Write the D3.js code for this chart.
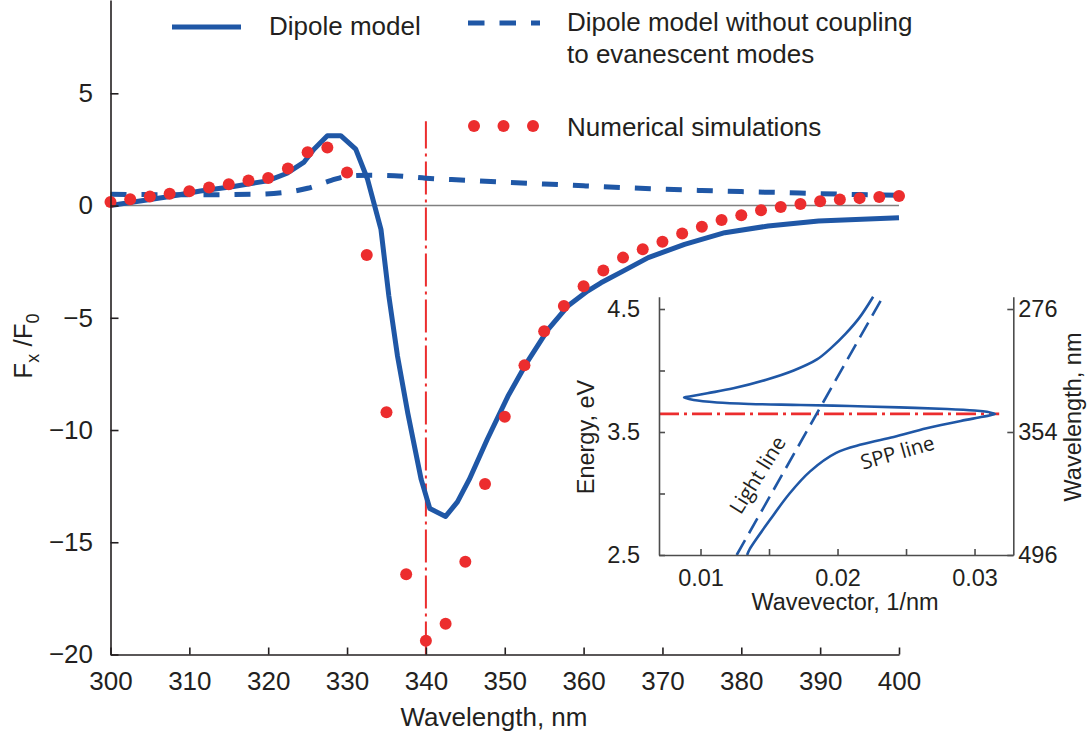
<!DOCTYPE html>
<html>
<head>
<meta charset="utf-8">
<script src="https://cdn.jsdelivr.net/npm/d3@7"></script>
<style>
  body { margin: 0; background: #fff; }
  svg { display: block; font-family: "Liberation Sans", Arial, Helvetica, sans-serif; }
</style>
</head>
<body>
<svg id="chart" width="1090" height="739"></svg>
<script>
// ---- values ----

// main panel: Fx/F0 against wavelength (nm)
var dipoleWl = [300, 302.9, 307.1, 311.4, 315.6, 319.9, 322.4, 324.5, 325.8, 327.5, 329.2, 331.1, 332.6, 334.3,
                335.3, 336.4, 337.7, 339.4, 340.5, 342.5, 344, 345.5, 347.8, 350.4, 352.9, 355.5, 358, 360.5,
                362.2, 365, 368.2, 372.8, 377.9, 383.4, 389.8, 400];
var dipoleF = [0.0, 0.16, 0.38, 0.65, 0.85, 1.10, 1.44, 1.92, 2.51, 3.11, 3.11, 2.51, 1.17, -1.06,
               -4.03, -6.71, -9.24, -12.2, -13.5, -13.85, -13.2, -12.2, -10.4, -8.5, -6.94, -5.52, -4.48, -3.81,
               -3.44, -2.92, -2.32, -1.73, -1.21, -0.91, -0.69, -0.54];

var uncoupledWl = [300, 310, 318, 322, 325, 328, 330.5, 333, 336, 340, 345, 350, 355, 360, 365, 370, 375, 380, 385, 390, 395, 400];
var uncoupledF = [0.5, 0.48, 0.5, 0.58, 0.77, 1.12, 1.33, 1.35, 1.33, 1.22, 1.13, 1.04, 0.96, 0.88, 0.8, 0.73, 0.67, 0.62, 0.58, 0.53, 0.49, 0.46];

var simWl = [300, 302.5, 305, 307.5, 310, 312.5, 315, 317.5, 320, 322.5, 325, 327.5, 330, 332.5, 335, 337.5, 340,
             342.5, 345, 347.5, 350, 352.5, 355, 357.5, 360, 362.5, 365, 367.5, 370, 372.5, 375, 377.5, 380,
             382.5, 385, 387.5, 390, 392.5, 395, 397.5, 400];
var simF = [0.16, 0.28, 0.40, 0.52, 0.64, 0.80, 0.95, 1.12, 1.23, 1.65, 2.37, 2.59, 1.47, -2.2, -9.21, -16.43, -19.39,
            -18.63, -15.87, -12.4, -9.41, -7.12, -5.6, -4.48, -3.6, -2.89, -2.32, -1.95, -1.61, -1.25, -0.94, -0.64, -0.43,
            -0.21, -0.06, 0.07, 0.19, 0.27, 0.33, 0.38, 0.43];

var markerWl = 340;           // resonance wavelength
var markerSpan = [-20, 3.75]; // extent of the vertical dash-dot line

var xTicks = [300, 310, 320, 330, 340, 350, 360, 370, 380, 390, 400];
var yTicks = [-20, -15, -10, -5, 0, 5];

// inset: dispersion, energy (eV) against wavevector (1/nm)
var sppK = [0.0226, 0.0216, 0.0206, 0.0195, 0.0185, 0.0168, 0.0148, 0.0124, 0.0105, 0.0093, 0.0088,
            0.0095, 0.0112, 0.0136, 0.0173, 0.0209, 0.0245, 0.0280, 0.0300, 0.0309, 0.0315,
            0.0306, 0.0290, 0.0265, 0.0241, 0.0218, 0.0199, 0.0180, 0.0165, 0.0151, 0.0136, 0.0134];
var sppE = [4.60, 4.43, 4.30, 4.18, 4.09, 4.00, 3.925, 3.855, 3.815, 3.79, 3.78,
            3.76, 3.74, 3.728, 3.72, 3.711, 3.70, 3.687, 3.675, 3.665, 3.646,
            3.624, 3.59, 3.53, 3.46, 3.40, 3.33, 3.18, 3.00, 2.79, 2.55, 2.50];
var lightK = [0.01264, 0.02332];
var lightE = [2.5, 4.6];
var markerE = 3.647;
var markerKEnd = 0.0318;

var energyTicks = [2.5, 3, 3.5, 4, 4.5];
var energyLabeled = [2.5, 3.5, 4.5];
var kTicks = [0.01, 0.015, 0.02, 0.025, 0.03];
var kLabeled = [0.01, 0.02, 0.03];
var wlTickE = [4.5, 3.5, 2.5];
var wlTickLabels = ["276", "354", "496"];

// ---- styling ----
var blue = "#1f57a6";
var red = "#ec2d2e";
var ink = "#231f20";

var svg = d3.select("#chart");

// ---- main panel ----
var x = d3.scaleLinear().domain([300, 400]).range([110.5, 899]);
var y = d3.scaleLinear().domain([-20, 5]).range([654.5, 93.3]);
var yTop = y.invert(0);
y.domain([-20, yTop]).range([654.5, 0]);

// zero line
svg.append("line")
    .attr("x1", x(300)).attr("x2", x(400))
    .attr("y1", y(0)).attr("y2", y(0))
    .style("stroke", "#808080")
    .style("stroke-width", 1.5);

// resonance marker
svg.append("line")
    .attr("x1", x(markerWl)).attr("x2", x(markerWl))
    .attr("y1", y(markerSpan[0])).attr("y2", y(markerSpan[1]))
    .style("stroke", red)
    .style("stroke-width", 2)
    .style("stroke-dasharray", "33,5,3,5");

var line = d3.line()
    .x(function(d) { return x(d[0]); })
    .y(function(d) { return y(d[1]); });

svg.append("path")
    .datum(d3.zip(uncoupledWl, uncoupledF))
    .attr("d", line.curve(d3.curveMonotoneX))
    .style("fill", "none")
    .style("stroke", blue)
    .style("stroke-width", 5)
    .style("stroke-dasharray", "16,15");

svg.append("path")
    .datum(d3.zip(dipoleWl, dipoleF))
    .attr("d", line.curve(d3.curveLinear))
    .style("fill", "none")
    .style("stroke", blue)
    .style("stroke-width", 5)
    .style("stroke-linejoin", "round");

svg.selectAll("circle.sim")
    .data(d3.zip(simWl, simF))
    .enter()
    .append("circle")
    .attr("class", "sim")
    .attr("cx", function(d) { return x(d[0]); })
    .attr("cy", function(d) { return y(d[1]); })
    .attr("r", 6)
    .style("fill", red);

function styleAxis(g, color, size) {
    g.select(".domain").style("stroke", color).style("stroke-width", 1.6);
    g.selectAll(".tick line").style("stroke", color).style("stroke-width", 1.6);
    g.selectAll(".tick text").style("fill", ink).style("font-size", size + "px")
        .style("font-family", "'Liberation Sans', Arial, sans-serif");
}

var xAxis = svg.append("g")
    .attr("transform", "translate(0," + y(-20) + ")")
    .call(d3.axisBottom(x).tickValues(xTicks).tickSizeInner(-7).tickSizeOuter(0).tickPadding(17));
styleAxis(xAxis, ink, 26);

var yAxis = svg.append("g")
    .attr("transform", "translate(" + x(300) + ",0)")
    .call(d3.axisLeft(y).tickValues(yTicks).tickSizeInner(-8).tickSizeOuter(0).tickPadding(17.5));
styleAxis(yAxis, ink, 26);

svg.append("text")
    .attr("x", 494).attr("y", 726)
    .attr("text-anchor", "middle")
    .style("font-size", "26px").style("fill", ink)
    .text("Wavelength, nm");

var yLabel = svg.append("text")
    .attr("transform", "translate(32,346) rotate(-90)")
    .attr("text-anchor", "middle")
    .style("font-size", "26px").style("fill", ink);
yLabel.append("tspan").text("F");
yLabel.append("tspan").attr("dy", 7).style("font-size", "18px").text("x");
yLabel.append("tspan").attr("dy", -7).text(" /F");
yLabel.append("tspan").attr("dy", 7).style("font-size", "18px").text("0");

// legend
svg.append("line")
    .attr("x1", 172).attr("x2", 241).attr("y1", 27).attr("y2", 27)
    .style("stroke", blue).style("stroke-width", 5);
svg.append("text").attr("x", 269).attr("y", 35)
    .style("font-size", "26px").style("fill", ink).text("Dipole model");

svg.append("line")
    .attr("x1", 468).attr("x2", 540).attr("y1", 23).attr("y2", 23)
    .style("stroke", blue).style("stroke-width", 5).style("stroke-dasharray", "16.5,15");
svg.append("text").attr("x", 567).attr("y", 31)
    .style("font-size", "26px").style("fill", ink).text("Dipole model without coupling");
svg.append("text").attr("x", 567).attr("y", 63)
    .style("font-size", "26px").style("fill", ink).text("to evanescent modes");

svg.selectAll("circle.legdot")
    .data([474, 503.5, 533])
    .enter()
    .append("circle")
    .attr("class", "legdot")
    .attr("cx", function(d) { return d; })
    .attr("cy", 126)
    .attr("r", 6)
    .style("fill", red);
svg.append("text").attr("x", 567).attr("y", 136)
    .style("font-size", "26px").style("fill", ink).text("Numerical simulations");

// ---- inset ----
var kx = d3.scaleLinear().domain([0.00697, 0.03283]).range([659, 1013.3]);
var ey = d3.scaleLinear().domain([2.5, 4.6]).range([555, 296.7]);
var insetAxis = "#4d4d4d";

svg.append("rect")
    .attr("x", kx.range()[0]).attr("y", ey.range()[1])
    .attr("width", kx.range()[1] - kx.range()[0])
    .attr("height", ey.range()[0] - ey.range()[1])
    .style("fill", "#fff");

svg.append("line")
    .attr("x1", kx(kx.domain()[0])).attr("x2", kx(markerKEnd))
    .attr("y1", ey(markerE)).attr("y2", ey(markerE))
    .style("stroke", red).style("stroke-width", 2.6)
    .style("stroke-dasharray", "20,5,3,5");

var inLine = d3.line()
    .x(function(d) { return kx(d[0]); })
    .y(function(d) { return ey(d[1]); });

svg.append("path")
    .datum(d3.zip(lightK, lightE))
    .attr("d", inLine)
    .style("fill", "none").style("stroke", blue)
    .style("stroke-width", 2.6).style("stroke-dasharray", "17,8");

svg.append("path")
    .datum(d3.zip(sppK, sppE))
    .attr("d", inLine.curve(d3.curveCatmullRom.alpha(0.5)))
    .style("fill", "none").style("stroke", blue)
    .style("stroke-width", 2.6).style("stroke-linejoin", "round");

var eAxis = svg.append("g")
    .attr("transform", "translate(" + kx.range()[0] + ",0)")
    .call(d3.axisLeft(ey).tickValues(energyTicks).tickSizeInner(-6).tickSizeOuter(0).tickPadding(19)
        .tickFormat(function(d) { return energyLabeled.indexOf(d) >= 0 ? d3.format(".1f")(d) : ""; }));
styleAxis(eAxis, insetAxis, 23.5);

var kAxis = svg.append("g")
    .attr("transform", "translate(0," + ey.range()[0] + ")")
    .call(d3.axisBottom(kx).tickValues(kTicks).tickSizeInner(-6).tickSizeOuter(0).tickPadding(14)
        .tickFormat(function(d) { return kLabeled.indexOf(d) >= 0 ? d3.format(".2f")(d) : ""; }));
styleAxis(kAxis, insetAxis, 23.5);

var wAxis = svg.append("g")
    .attr("transform", "translate(" + kx.range()[1] + ",0)")
    .call(d3.axisRight(ey).tickValues(wlTickE).tickSizeInner(-6).tickSizeOuter(0).tickPadding(5)
        .tickFormat(function(d, i) { return wlTickLabels[i]; }));
styleAxis(wAxis, insetAxis, 23.5);

svg.append("text")
    .attr("x", 845).attr("y", 610)
    .attr("text-anchor", "middle")
    .style("font-size", "23.5px").style("fill", ink)
    .text("Wavevector, 1/nm");

svg.append("text")
    .attr("transform", "translate(594,437) rotate(-90)")
    .attr("text-anchor", "middle")
    .style("font-size", "23.5px").style("fill", ink)
    .text("Energy, eV");

svg.append("text")
    .attr("transform", "translate(1081,417) rotate(-90)")
    .attr("text-anchor", "middle")
    .style("font-size", "23.5px").style("fill", ink)
    .text("Wavelength, nm");

svg.append("text")
    .attr("transform", "translate(757.5,475) rotate(-58)")
    .attr("text-anchor", "middle").attr("dy", "0.35em")
    .style("font-family", "'Open Sans', sans-serif")
    .style("font-size", "20.5px").style("fill", ink)
    .text("Light line");

svg.append("text")
    .attr("transform", "translate(897.5,452.5) rotate(-16)")
    .attr("text-anchor", "middle").attr("dy", "0.35em")
    .style("font-family", "'Open Sans', sans-serif")
    .style("font-size", "20.5px").style("fill", ink)
    .text("SPP line");
</script>
</body>
</html>
